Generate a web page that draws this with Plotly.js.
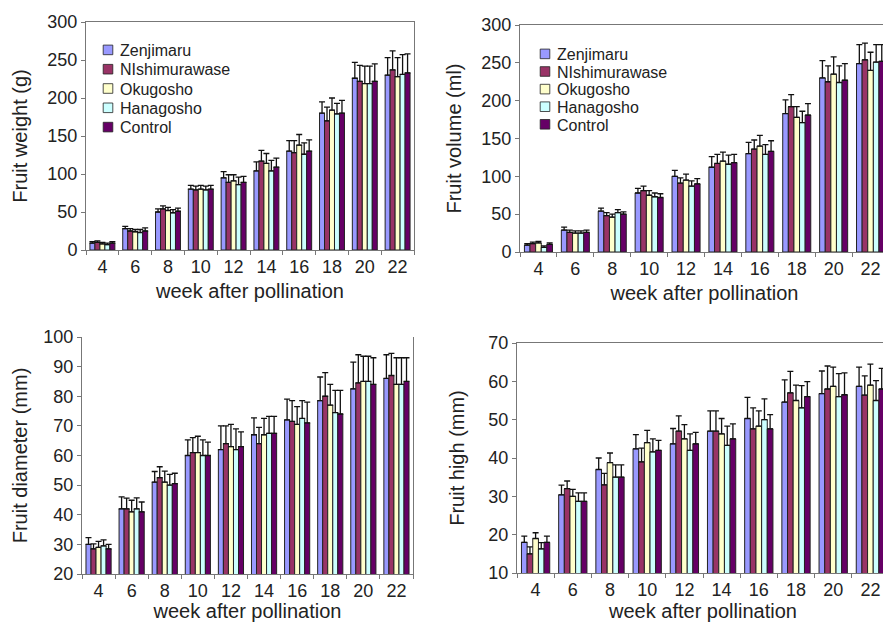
<!DOCTYPE html>
<html>
<head>
<meta charset="utf-8">
<script src="https://cdn.plot.ly/plotly-3.0.1.min.js"></script>
<style>
html, body { margin: 0; padding: 0; overflow: hidden; background: #fff; }
#chart { width: 900px; height: 622px; }
</style>
</head>
<body>
<div id="chart"></div>
<script>
// ---- data ----
const weeks = ["4", "6", "8", "10", "12", "14", "16", "18", "20", "22"];
const cultivars = ["Zenjimaru", "NIshimurawase", "Okugosho", "Hanagosho", "Control"];
const colors = ["#9999FF", "#993366", "#FFFFCC", "#CCFFFF", "#660066"];

// Fruit weight (g)
const weightZen = [9, 28, 50, 80, 95, 104, 130, 180, 226, 230];
const weightNis = [10, 25, 54, 79, 89, 117, 128, 170, 222, 237];
const weightOku = [8, 24, 52, 80, 91, 114, 138, 184, 219, 228];
const weightHan = [7, 23, 49, 79, 86, 104, 126, 179, 219, 231];
const weightCon = [9, 25, 51, 80, 89, 109, 130, 180, 222, 233];
const weightErrZen = [2, 3, 4, 5, 8, 12, 14, 15, 21, 23];
const weightErrNis = [2, 3, 4, 5, 10, 14, 16, 18, 21, 25];
const weightErrOku = [2, 3, 4, 5, 8, 13, 14, 16, 23, 25];
const weightErrHan = [2, 4, 4, 5, 10, 14, 15, 14, 23, 26];
const weightErrCon = [2, 4, 4, 5, 8, 12, 15, 17, 23, 25];

// Fruit volume (ml)
const volumeZen = [9, 29, 54, 78, 100, 112, 130, 183, 230, 249];
const volumeNis = [11, 26, 48, 81, 91, 117, 136, 192, 225, 254];
const volumeOku = [12, 25, 46, 75, 95, 120, 140, 178, 235, 240];
const volumeHan = [6, 25, 52, 73, 87, 116, 129, 171, 224, 251];
const volumeCon = [10, 26, 50, 72, 90, 118, 133, 181, 227, 252];
const volumeErrZen = [2, 4, 4, 6, 8, 14, 15, 18, 23, 25];
const volumeErrNis = [2, 3, 4, 6, 7, 12, 12, 16, 21, 22];
const volumeErrOku = [2, 3, 4, 6, 8, 12, 14, 14, 23, 24];
const volumeErrHan = [2, 3, 4, 5, 7, 12, 13, 15, 22, 23];
const volumeErrCon = [2, 3, 3, 5, 7, 11, 14, 15, 22, 22];

// Fruit diameter (mm)
const diamZen = [30, 42, 51, 60, 62, 67, 72, 78.5, 82.5, 86];
const diamNis = [28.5, 42, 52.5, 61, 64, 64, 71.5, 80, 84.5, 87];
const diamOku = [29, 41, 51, 61, 63, 67, 70.5, 77, 85, 84];
const diamHan = [29.5, 42, 50, 60, 62, 67.5, 72.5, 74.5, 85, 84];
const diamCon = [28.5, 41, 50.5, 60, 63, 67.5, 71, 74, 84, 85];
const diamErrZen = [2.3, 4, 3.6, 5.3, 8, 5.7, 7, 8, 9, 8];
const diamErrNis = [1.7, 3.6, 3.7, 5, 6, 5.5, 7, 8, 9.5, 7.5];
const diamErrOku = [2, 3.9, 3.7, 5.5, 7.5, 5.5, 6, 7, 8.5, 9];
const diamErrHan = [2, 3.7, 3.6, 5.3, 7, 5.7, 6, 7.5, 8.5, 9];
const diamErrCon = [1.5, 3.3, 3.5, 4.5, 5, 5.7, 7, 8, 9, 8];

// Fruit high (mm)
const highZen = [18, 30.4, 37, 42.4, 43.7, 47, 50.3, 54.6, 56.8, 58.7];
const highNis = [15, 32, 33, 39, 47, 47, 47.6, 57, 58, 56.4];
const highOku = [19, 30, 38.8, 44, 45, 46.3, 48.3, 55, 58.7, 59];
const highHan = [16.3, 28.7, 35, 41.6, 42, 43.3, 50, 53.1, 56, 55];
const highCon = [18, 28.7, 35, 42, 43.7, 45, 47.6, 56, 56.5, 58];
const highErrZen = [1.6, 2.5, 3, 3.7, 4, 5.3, 5.5, 5.8, 5.9, 5];
const highErrNis = [1.8, 2, 3, 3.6, 4, 5.3, 5.5, 5.6, 6, 5];
const highErrOku = [1.5, 1.8, 2.5, 3.2, 3.7, 4, 4, 4, 5, 5.5];
const highErrHan = [1.6, 2.2, 3.2, 3.4, 4.3, 5, 5.4, 5.8, 6, 5.2];
const highErrCon = [1.6, 2.2, 3.2, 2.6, 3, 3.9, 3.7, 3.9, 5.7, 5.4];

const panels = [
  { vals: [weightZen, weightNis, weightOku, weightHan, weightCon],
    errs: [weightErrZen, weightErrNis, weightErrOku, weightErrHan, weightErrCon],
    xa: "x", ya: "y", legend: "legend", showlegend: true },
  { vals: [volumeZen, volumeNis, volumeOku, volumeHan, volumeCon],
    errs: [volumeErrZen, volumeErrNis, volumeErrOku, volumeErrHan, volumeErrCon],
    xa: "x2", ya: "y2", legend: "legend2", showlegend: true },
  { vals: [diamZen, diamNis, diamOku, diamHan, diamCon],
    errs: [diamErrZen, diamErrNis, diamErrOku, diamErrHan, diamErrCon],
    xa: "x3", ya: "y3", legend: "legend", showlegend: false },
  { vals: [highZen, highNis, highOku, highHan, highCon],
    errs: [highErrZen, highErrNis, highErrOku, highErrHan, highErrCon],
    xa: "x4", ya: "y4", legend: "legend", showlegend: false }
];

const traces = [];
panels.forEach(p => {
  cultivars.forEach((name, i) => {
    traces.push({
      type: "bar",
      name: name,
      x: weeks,
      y: p.vals[i],
      xaxis: p.xa,
      yaxis: p.ya,
      legend: p.legend,
      showlegend: p.showlegend,
      marker: { color: colors[i], line: { color: "#222", width: 1 } },
      error_y: {
        type: "data", symmetric: false,
        array: p.errs[i],
        arrayminus: p.errs[i].map(() => 0),
        color: "#111", thickness: 1.3, width: 3
      },
      hoverinfo: "x+y+name"
    });
  });
});

const W = 900, H = 622;
const FONT = "Liberation Sans, Arial, sans-serif";
function px(a, b) { return [a / W, b / W]; }
function py(top, bottom) { return [1 - bottom / H, 1 - top / H]; }

function xAxis(dom, anchor, mirror) {
  return {
    domain: dom, anchor: anchor, type: "category",
    showline: true, linecolor: "#777", linewidth: 1, mirror: mirror,
    ticks: "outside", tickson: "boundaries", ticklen: 4, tickcolor: "#777",
    tickfont: { family: FONT, size: 18, color: "#222" },
    showgrid: false, zeroline: false, automargin: false,
    title: { text: "week after pollination", font: { family: FONT, size: 20, color: "#222" }, standoff: 8 }
  };
}
function yAxis(dom, anchor, range, dtick, title, mirror, standoff) {
  return {
    domain: dom, anchor: anchor, range: range, dtick: dtick,
    showline: true, linecolor: "#777", linewidth: 1, mirror: mirror,
    ticks: "outside", ticklen: 4, tickcolor: "#777",
    tickfont: { family: FONT, size: 18, color: "#222" },
    showgrid: false, zeroline: false, automargin: false,
    title: { text: title, font: { family: FONT, size: 20, color: "#222" }, standoff: standoff }
  };
}

const layout = {
  width: W, height: H,
  margin: { l: 0, r: 0, t: 0, b: 0 },
  paper_bgcolor: "#fff", plot_bgcolor: "#fff",
  barmode: "group", bargap: 0.24, bargroupgap: 0,
  font: { family: FONT, color: "#222" },
  xaxis: xAxis(px(86, 414), "y", true),
  yaxis: yAxis(py(22, 250), "x", [0, 300], 50, "Fruit weight (g)", true, 14),
  xaxis2: xAxis(px(520, 889), "y2", true),
  yaxis2: yAxis(py(25, 252), "x2", [0, 300], 50, "Fruit volume (ml)", true, 14),
  xaxis3: xAxis(px(82, 413), "y3", false),
  yaxis3: yAxis(py(337, 574), "x3", [20, 100], 10, "Fruit diameter (mm)", true, 10),
  xaxis4: xAxis(px(517, 889), "y4", true),
  yaxis4: yAxis(py(343, 573), "x4", [10, 70], 10, "Fruit high (mm)", true, 18),
  legend: {
    x: 80 / W, y: 1 - 33 / H, xanchor: "left", yanchor: "top",
    bgcolor: "rgba(0,0,0,0)", borderwidth: 0,
    font: { family: FONT, size: 16, color: "#222" }, tracegroupgap: 0
  },
  legend2: {
    x: 517 / W, y: 1 - 37 / H, xanchor: "left", yanchor: "top",
    bgcolor: "rgba(0,0,0,0)", borderwidth: 0,
    font: { family: FONT, size: 16, color: "#222" }, tracegroupgap: 0
  }
};

// tighten legend rows and place the small swatches next to the labels
function tightenLegend(gd, cls, step) {
  const items = gd.querySelectorAll("g." + cls + " g.traces");
  let y0 = null;
  items.forEach((t, i) => {
    const m = /translate\(\s*([-\d.eE]+)[ ,]+([-\d.eE]+)\s*\)/.exec(t.getAttribute("transform") || "");
    if (!m) return;
    if (y0 === null) y0 = parseFloat(m[2]);
    t.setAttribute("transform", "translate(" + m[1] + "," + (y0 + i * step) + ")");
    const pts = t.querySelector("g.legendpoints");
    if (pts) pts.setAttribute("transform", "translate(12,0) scale(0.8)");
  });
}

Plotly.newPlot("chart", traces, layout, { displayModeBar: false, staticPlot: true }).then(gd => {
  tightenLegend(gd, "legend", 19.3);
  tightenLegend(gd, "legend2", 17.6);
});
</script>
</body>
</html>
